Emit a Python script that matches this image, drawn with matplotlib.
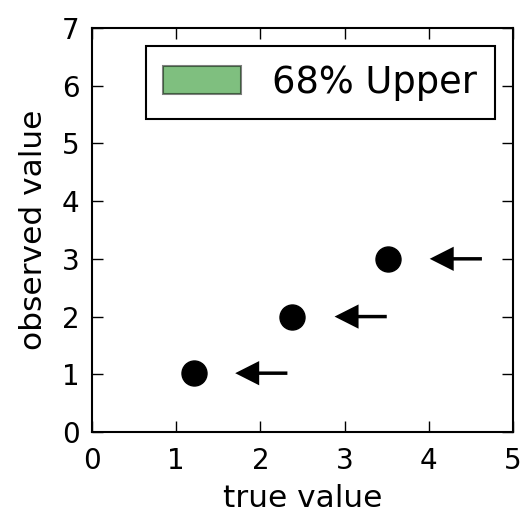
import matplotlib
matplotlib.use('Agg')
import matplotlib.pyplot as plt
from matplotlib.patches import Patch

# measured points and their 68% upper limits
true_value = [1.21, 2.37, 3.52]
observed_value = [1.02, 2.00, 3.00]
upper_limit = [2.32, 3.50, 4.63]
legend_label = '68% Upper'

fig = plt.figure(figsize=(5.23, 5.15), dpi=100)
ax = fig.add_axes([0.176, 0.161, 0.805, 0.785])

ax.plot(true_value, observed_value, 'o', color='k', ms=18)

# arrows pointing from the upper limit toward lower values
for x, y in zip(upper_limit, observed_value):
    ax.arrow(x, y, -0.62, 0, width=0.06, head_width=0.42, head_length=0.285,
             length_includes_head=True, color='k', lw=0)

ax.set_xlim(0, 5)
ax.set_ylim(0, 7)
ax.set_xlabel('true value', fontsize=22.5, labelpad=6)
ax.set_ylabel('observed value', fontsize=22.5, labelpad=10)
ax.tick_params(direction='in', length=8, width=1, labelsize=20, pad=9,
               top=True, right=True)
ax.tick_params(axis='x', pad=11)
for sp in ax.spines.values():
    sp.set_linewidth(1.5)

handle = Patch(facecolor='g', alpha=0.5, edgecolor='k', lw=1.5)
leg = ax.legend([handle], [legend_label], loc='upper right', fontsize=26.5,
                fancybox=False, edgecolor='k', framealpha=1,
                handlelength=2.1, handleheight=0.76, handletextpad=0.85,
                borderpad=0.48, borderaxespad=0.5)
leg.get_frame().set_linewidth(1.5)

plt.savefig('out.png', dpi=100)
